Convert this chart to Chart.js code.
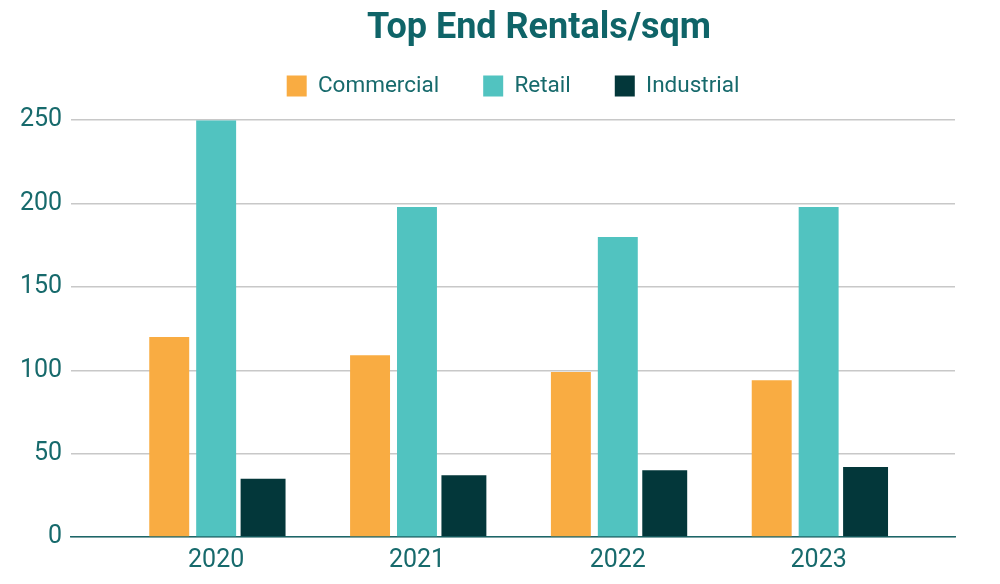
<!DOCTYPE html>
<html>
<head>
<meta charset="utf-8">
<script src="https://cdn.jsdelivr.net/npm/chart.js@4/dist/chart.umd.min.js"></script>
<style>
  html, body { margin: 0; padding: 0; background: #ffffff; }
  #wrap { width: 1000px; height: 584px; }
</style>
</head>
<body>
<div id="wrap"><canvas id="c" width="1000" height="584"></canvas></div>
<script>
const titleText = 'Top End Rentals/sqm';
const categories = ['2020', '2021', '2022', '2023'];
const seriesNames = ['Commercial', 'Retail', 'Industrial'];
const commercial = [120, 109, 99, 94];
const retail = [250, 198, 180, 198];
const industrial = [35, 37, 40, 42];
const yTicks = [0, 50, 100, 150, 200, 250];

const colors = ['#F9AC42', '#51C3C0', '#03373A'];
const textColor = '#176A6C';
const FONT = 'Roboto';

const toPoints = arr => arr.map((v, i) => ({ x: i, y: v }));

const titleShift = {
  id: 'titleShift',
  afterLayout(chart) {
    chart.titleBlock.left += 52;
  }
};
const legendSpace = {
  id: 'legendSpace',
  beforeInit(chart) {
    const orig = chart.legend.fit;
    chart.legend.fit = function () {
      orig.call(this);
      this.height += 13;
    };
  }
};

new Chart(document.getElementById('c'), {
  type: 'bar',
  data: {
    datasets: [
      { label: seriesNames[0], data: toPoints(commercial), backgroundColor: colors[0], barPercentage: 40 / 47, categoryPercentage: 0.701 },
      { label: seriesNames[1], data: toPoints(retail), backgroundColor: colors[1], barPercentage: 40 / 47, categoryPercentage: 0.701 },
      { label: seriesNames[2], data: toPoints(industrial), backgroundColor: colors[2], barPercentage: 45 / 47, categoryPercentage: 0.701 }
    ]
  },
  plugins: [titleShift, legendSpace],
  options: {
    responsive: false,
    animation: false,
    events: [],
    layout: { padding: { left: 11, right: 45, top: 0, bottom: 0 } },
    plugins: {
      title: {
        display: true,
        text: titleText,
        fullSize: false,
        color: '#0F6468',
        font: { family: FONT, size: 36, weight: 'bold' },
        padding: { top: 7, bottom: -19.5 }
      },
      legend: {
        display: true,
        fullSize: false,
        labels: {
          color: textColor,
          font: { family: FONT, size: 22.5 },
          boxWidth: 20,
          boxHeight: 21,
          padding: 44
        }
      },
      tooltip: { enabled: false }
    },
    scales: {
      x: {
        type: 'linear',
        min: -0.722,
        max: 3.679,
        offset: false,
        afterBuildTicks(scale) {
          scale.ticks = categories.map((_, i) => ({ value: i }));
        },
        ticks: {
          autoSkip: false,
          maxRotation: 0,
          color: textColor,
          font: { family: FONT, size: 25 },
          padding: 8.5,
          callback: v => categories[v]
        },
        grid: { display: false, drawTicks: false },
        border: { display: true, color: '#1C6668', width: 1.5 }
      },
      y: {
        min: 0,
        max: 250,
        afterBuildTicks(scale) {
          scale.ticks = yTicks.map(v => ({ value: v }));
        },
        ticks: {
          color: textColor,
          font: { family: FONT, size: 25 },
          padding: 9
        },
        grid: { color: '#C8C8C8', lineWidth: 1.5, drawTicks: false },
        border: { display: false }
      }
    }
  }
});
</script>
</body>
</html>
